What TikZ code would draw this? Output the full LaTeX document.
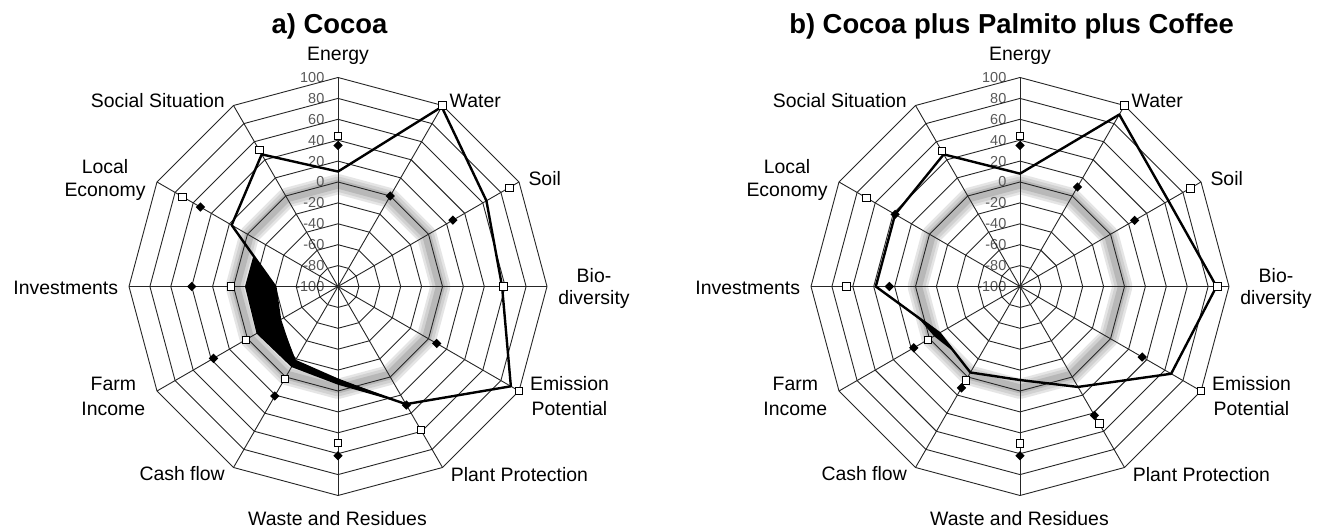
\documentclass[tikz,border=0pt]{standalone}
\usepackage{fontspec}
\setmainfont{Liberation Sans}
\usetikzlibrary{shapes.geometric,calc}
\tikzset{
  lbl/.style={inner sep=0pt, font=\fontsize{19.5}{22}\selectfont},
  ttl/.style={inner sep=0pt, font=\fontsize{27.5}{30}\selectfont\bfseries},
  ticklbl/.style={inner sep=0pt, anchor=east, text=black!65, font=\fontsize{14.5}{16}\selectfont},
  gridline/.style={draw=black!85, line width=0.9bp},
  bandout/.style={draw=black!10, line width=20bp, line join=round},
  bandwide/.style={draw=black!18, line width=15bp, line join=round},
  bandcore/.style={draw=black!28, line width=9bp, line join=round},
  dline/.style={draw=black, line width=2.4bp, line join=round},
  wsq/.style={rectangle, draw=black, fill=white, line width=0.6bp, minimum size=7.5bp, inner sep=0pt},
  bdm/.style={diamond, fill=black, minimum size=9.5bp, inner sep=0pt},
}
% Frame of one spider chart: zero band, scale, rings, spokes, axis names.
% Scale: value v in [-100,100] sits at radius 1.045*(v+100) bp.
\newcommand\spiderframe[1]{%
  \draw[bandout] (90:102.4) \foreach \a in {60,30,...,-240}{ -- (\a:102.4)} -- cycle;
  \draw[bandwide] (90:102.4) \foreach \a in {60,30,...,-240}{ -- (\a:102.4)} -- cycle;
  \draw[bandcore] (90:102.4) \foreach \a in {60,30,...,-240}{ -- (\a:102.4)} -- cycle;
  \foreach \v in {100,80,...,-100}
    \node[ticklbl] (#1-tick\v) at (-13.5,{1.045*(\v+100)}) {\v};
  \foreach \k in {1,...,10}
    {\draw[gridline] (90:{20.9*\k}) \foreach \a in {60,30,...,-240}{ -- (\a:{20.9*\k})} -- cycle;}
  \foreach \a in {90,60,...,-240} \draw[gridline] (0,0) -- (\a:209);
  \node[lbl, anchor=base] (#1-energy) at (0,225.5) {Energy};
  \node[lbl, anchor=base west] (#1-water) at (111.5,178.5) {Water};
  \node[lbl, anchor=base west] (#1-soil) at (190.3,100.5) {Soil};
  \node[lbl, anchor=base] (#1-bio) at (256,3.8) {Bio-};
  \node[lbl, anchor=base] (#1-div) at (256,-18.5) {diversity};
  \node[lbl, anchor=base] (#1-emis) at (231.5,-104.5) {Emission};
  \node[lbl, anchor=base] (#1-pot) at (231.5,-129.5) {Potential};
  \node[lbl, anchor=base west] (#1-plant) at (112.7,-195.2) {Plant Protection};
  \node[lbl, anchor=base] (#1-waste) at (-0.5,-239.5) {Waste and Residues};
  \node[lbl, anchor=base east] (#1-cash) at (-113,-194.5) {Cash flow};
  \node[lbl, anchor=base] (#1-farm) at (-224.7,-104.5) {Farm};
  \node[lbl, anchor=base] (#1-income) at (-224.7,-129.5) {Income};
  \node[lbl, anchor=base east] (#1-invest) at (-219.7,-8.5) {Investments};
  \node[lbl, anchor=base] (#1-local) at (-233,113.2) {Local};
  \node[lbl, anchor=base] (#1-econ) at (-233,89.8) {Economy};
  \node[lbl, anchor=base east] (#1-social) at (-113,178.5) {Social Situation};
}
\begin{document}
\begin{tikzpicture}[x=1bp,y=1bp]
\useasboundingbox (0,0) rectangle (1329,531);
\fill[white] (0,0) rectangle (1329,531);

% ---------------- a) Cocoa ----------------
\begin{scope}[shift={(338,244.5)}]
  \spiderframe{a}
  \node[ttl, anchor=base] (a-title) at (-8.5,252.5) {a) Cocoa};
  \foreach \i/\v in {0/10,1/98.5,2/64,3/57,4/91,5/30,6/-10,7/-16,8/-36,9/-40,10/17.5,11/46}
    \coordinate (aS-\i) at ({90-30*\i}:{1.045*(\v+100)});
  \foreach \i/\v in {6/-6,7/-11,8/-10,9/-11}
    \coordinate (aO-\i) at ({90-30*\i}:{1.045*(\v+100)});
  \foreach \i/\v in {6/-12,7/-19}
    \coordinate (aI-\i) at ({90-30*\i}:{1.045*(\v+100)});
  \coordinate (aTip) at (160:90);
  \fill[black] (aTip) -- (aO-9) -- (aO-8) -- (aO-7) -- (aO-6) -- (aS-5)
    -- (aI-6) -- (aI-7) -- (aS-8) -- (aS-9) -- cycle;
  \draw[dline] (aS-0) \foreach \i in {1,...,11}{ -- (aS-\i)} -- cycle;
  \foreach \i/\v in {0/44,1/100,2/89,3/58,4/100,5/58.5,6/49.5,7/2,8/2,9/2.4,10/72,11/51}
    \node[wsq] (aW-\i) at ({90-30*\i}:{1.045*(\v+100)}) {};
  \foreach \i/\v in {0/35,1/0,2/27,4/9,5/31,6/62,7/21,8/37.6,9/40,10/52}
    \node[bdm] (aB-\i) at ({90-30*\i}:{1.045*(\v+100)}) {};
\end{scope}

% ---------------- b) Cocoa plus Palmito plus Coffee ----------------
\begin{scope}[shift={(1020,244.5)}]
  \spiderframe{b}
  \node[ttl, anchor=base] (b-title) at (-8.5,252.5) {b) Cocoa plus Palmito plus Coffee};
  \foreach \i/\v in {0/8,1/90,2/64,3/88,4/67,5/11,6/-10.5,7/-5,8/-11,9/38,10/38,11/46}
    \coordinate (bS-\i) at ({90-30*\i}:{1.045*(\v+100)});
  \coordinate (bF) at (210:{1.045*(-5+100)});
  \fill[black] ($(bS-9)!0.65!(bS-8)$) -- (bF) -- ($(bS-8)!0.5!(bS-7)$) -- (bS-8) -- cycle;
  \draw[dline] (bS-0) \foreach \i in {1,...,11}{ -- (bS-\i)} -- cycle;
  \foreach \i/\v in {0/44,1/100,2/88,3/89,4/100,5/51.4,6/50,7/3.7,8/2,9/66,10/70,11/50}
    \node[wsq] (bW-\i) at ({90-30*\i}:{1.045*(\v+100)}) {};
  \foreach \i/\v in {0/35,1/10,2/26.6,4/35,5/42.4,6/62,7/12,8/17.4,9/25,10/38}
    \node[bdm] (bB-\i) at ({90-30*\i}:{1.045*(\v+100)}) {};
\end{scope}
\end{tikzpicture}
\end{document}
